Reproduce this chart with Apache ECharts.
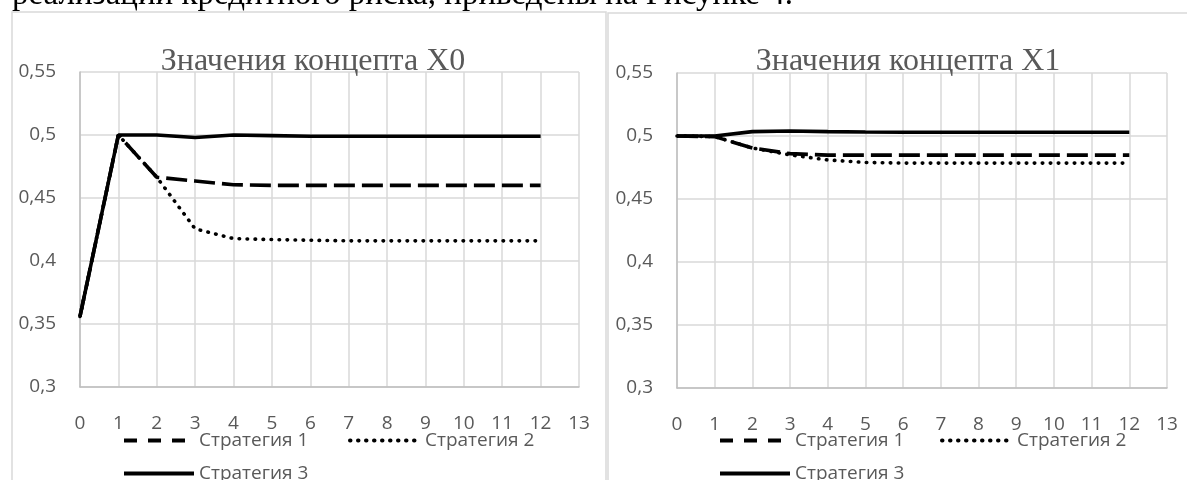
<!DOCTYPE html>
<html>
<head>
<meta charset="utf-8">
<title>Значения концептов X0 и X1</title>
<script src="https://cdn.jsdelivr.net/npm/echarts@6/dist/echarts.min.js"></script>
<style>
    html, body { margin: 0; padding: 0; background: #fff; }
    #main { width: 1187px; height: 480px; }
</style>
</head>
<body>
<div id="main"></div>
<script>
    // шаги моделирования
    var steps = [0, 1, 2, 3, 4, 5, 6, 7, 8, 9, 10, 11, 12];
    var names = ['Стратегия 1', 'Стратегия 2', 'Стратегия 3'];
    var yTicks = [0.3, 0.55, 0.05];

    // концепт X0
    var x0s1 = [0.356, 0.5, 0.4665, 0.4635, 0.4605, 0.46, 0.46, 0.46, 0.46, 0.46, 0.46, 0.46, 0.46];
    var x0s2 = [0.356, 0.5, 0.4665, 0.4255, 0.4178, 0.417, 0.4165, 0.416, 0.416, 0.416, 0.416, 0.416, 0.416];
    var x0s3 = [0.356, 0.5, 0.5, 0.498, 0.5, 0.4995, 0.499, 0.499, 0.499, 0.499, 0.499, 0.499, 0.499];

    // концепт X1
    var x1s1 = [0.5, 0.4995, 0.4905, 0.486, 0.4848, 0.4848, 0.4848, 0.4848, 0.4848, 0.4848, 0.4848, 0.4848, 0.4848];
    var x1s2 = [0.5, 0.4995, 0.4905, 0.485, 0.481, 0.479, 0.4785, 0.4785, 0.4785, 0.4785, 0.4785, 0.4785, 0.4785];
    var x1s3 = [0.5, 0.5, 0.5035, 0.504, 0.5035, 0.5032, 0.503, 0.503, 0.503, 0.503, 0.503, 0.503, 0.503];

    var txt = '#595959';
    var sans = 'Open Sans';

    function pairs(vals) {
        return steps.map(function (s, i) { return [s, vals[i]]; });
    }

    var lineTypes = [[21, 7], [0.5, 7.5], 'solid'];
    var legendTypes = [[13, 11], [0.5, 7.5], 'solid'];
    var caps = ['butt', 'round', 'butt'];

    function makeSeries(idx, list) {
        return list.map(function (vals, i) {
            return {
                name: names[i],
                type: 'line',
                xAxisIndex: idx,
                yAxisIndex: idx,
                data: pairs(vals),
                symbol: 'none',
                showSymbol: false,
                lineStyle: { color: '#000', width: 3.6, type: lineTypes[i], cap: caps[i] },
                itemStyle: { color: '#000' }
            };
        });
    }

    function xAxis(idx) {
        return {
            type: 'value', gridIndex: idx, min: 0, max: 13, interval: 1,
            axisLine: { show: true, lineStyle: { color: '#bfbfbf', width: 1.5 } },
            axisTick: { show: false },
            axisLabel: { color: txt, fontSize: 19, fontFamily: sans, margin: 27 },
            splitLine: { show: true, lineStyle: { color: '#d9d9d9', width: 1.5 } }
        };
    }

    function yAxis(idx) {
        return {
            type: 'value', gridIndex: idx, min: yTicks[0], max: yTicks[1], interval: yTicks[2],
            axisLine: { show: true, lineStyle: { color: '#bfbfbf', width: 1.5 } },
            axisTick: { show: false },
            axisLabel: {
                color: txt, fontSize: 19, fontFamily: sans, margin: 24,
                formatter: function (v) { return String(+v.toFixed(2)).replace('.', ','); }
            },
            splitLine: { show: true, lineStyle: { color: '#d9d9d9', width: 1.5 } }
        };
    }

    function legend(i, left, top) {
        return {
            data: [names[i]], left: left, top: top, padding: 0,
            itemWidth: 70, itemHeight: 14, itemGap: 5,
            itemStyle: { opacity: 0 },
            lineStyle: { color: '#000', width: 4, type: legendTypes[i], cap: caps[i] },
            textStyle: { color: txt, fontSize: 19, fontFamily: sans }
        };
    }

    var myChart = echarts.init(document.getElementById('main'));
    var option = {
        animation: false,
        backgroundColor: '#fff',
        title: [{
            text: 'Значения концепта X0', left: 308, top: 41, textAlign: 'center',
            textStyle: { color: txt, fontSize: 32, fontWeight: 'normal', fontFamily: 'Liberation Serif' }
        }, {
            text: 'Значения концепта X1', left: 903, top: 41, textAlign: 'center',
            textStyle: { color: txt, fontSize: 32, fontWeight: 'normal', fontFamily: 'Liberation Serif' }
        }],
        grid: [
            { left: 80, top: 72, width: 499, height: 315 },
            { left: 677, top: 73, width: 490, height: 315 }
        ],
        xAxis: [xAxis(0), xAxis(1)],
        yAxis: [yAxis(0), yAxis(1)],
        legend: [
            legend(0, 122, 431), legend(1, 348, 431), legend(2, 122, 464),
            legend(0, 718, 431), legend(1, 940, 431), legend(2, 718, 464)
        ],
        graphic: [
            {
                // обрезанная строка текста документа над рисунком
                type: 'text', x: 12, y: -4.5, silent: true,
                style: {
                    text: 'реализации кредитного риска, приведены на Рисунке 4.',
                    font: '33px "Liberation Serif"', fill: '#000', verticalAlign: 'middle'
                }
            },
            {
                type: 'rect', silent: true, z: -1,
                shape: { x: 12, y: 12, width: 594, height: 500 },
                style: { fill: 'none', stroke: '#d9d9d9', lineWidth: 1.5 }
            },
            {
                type: 'rect', silent: true, z: -1,
                shape: { x: 608, y: 13, width: 600, height: 500 },
                style: { fill: 'none', stroke: '#d9d9d9', lineWidth: 1.5 }
            }
        ],
        series: makeSeries(0, [x0s1, x0s2, x0s3]).concat(makeSeries(1, [x1s1, x1s2, x1s3]))
    };
    myChart.setOption(option);
</script>
</body>
</html>
